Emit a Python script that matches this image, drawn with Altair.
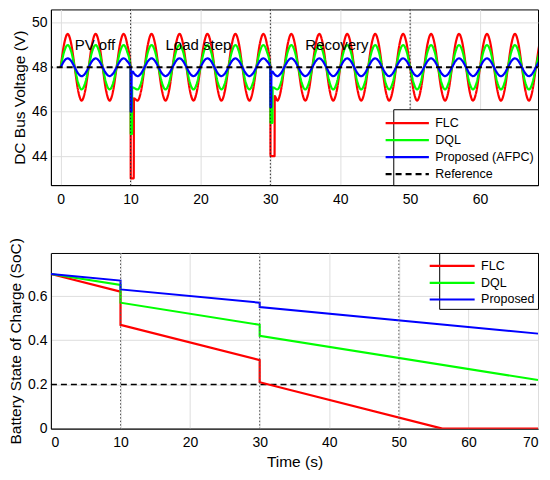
import altair as alt
import pandas as pd

FONT = "Liberation Sans"

# ---------------- Top panel: DC bus voltage ----------------
SERIES_TOP = ["FLC", "DQL", "Proposed (AFPC)", "Reference"]
COLORS_TOP = ["#ff0000", "#00ff00", "#0000ff", "#000000"]
WIDTHS_TOP = [2.2, 2.2, 3.4, 1.5]
DASH_TOP = [[1, 0], [1, 0], [1, 0], [6, 4]]

STEP = 0.5          # sampling step of the read-off values (s)
T_END = 68.5
# one oscillation period (4 s), every 0.5 s
FLC_CYCLE = [48.0, 49.06, 49.5, 49.06, 48.0, 46.94, 46.5, 46.94]
DQL_CYCLE = [48.0, 48.71, 49.0, 48.71, 48.0, 47.29, 47.0, 47.29]
AFPC_CYCLE = [48.0, 48.28, 48.4, 48.28, 48.0, 47.72, 47.6, 47.72]

# transients: (start, resume, [(t, v), ...])
FLC_EVENTS = [(10.0, 11.0, [(10.02, 43.0), (10.45, 43.0), (10.48, 46.6)]),
              (30.0, 31.0, [(30.02, 44.0), (30.6, 44.0), (30.63, 46.7)])]
DQL_EVENTS = [(10.0, 11.0, [(10.02, 45.0), (10.2, 45.0), (10.23, 47.1)]),
              (30.0, 31.0, [(30.02, 45.5), (30.3, 45.5), (30.33, 47.1)])]
AFPC_EVENTS = [(10.0, 10.5, [(10.02, 46.0), (10.12, 46.0), (10.15, 47.75), (10.3, 47.8)]),
               (30.0, 30.5, [(30.02, 46.2), (30.12, 46.2), (30.15, 47.75), (30.3, 47.8)])]

REF_T = [-2.0, 70.0]
REF_V = [48.0, 48.0]

EVENT_T = [10, 30, 50]
ANNOT_T = [2, 15, 35]
ANNOT_V = [49.0, 49.0, 49.0]
ANNOT_TXT = ["PV off", "Load step", "Recovery"]

X_TOP_DOMAIN = [-1.4, 68.3]
Y_TOP_DOMAIN = [42.7, 50.6]
X_TOP_TICKS = [0, 10, 20, 30, 40, 50, 60]
Y_TOP_TICKS = [44, 46, 48, 50]

# ---------------- Bottom panel: battery SoC ----------------
SERIES_BOT = ["FLC", "DQL", "Proposed"]
COLORS_BOT = ["#ff0000", "#00ff00", "#0000ff"]
WIDTHS_BOT = [2.2, 2.0, 3.4]

SOC_FLC_T = [0, 10, 10, 30, 30, 56.25, 70]
SOC_FLC_V = [0.70, 0.62, 0.47, 0.31, 0.21, 0.0, 0.0]
SOC_DQL_T = [0, 10, 10, 30, 30, 70]
SOC_DQL_V = [0.70, 0.65, 0.57, 0.47, 0.42, 0.22]
SOC_AFPC_T = [0, 10, 10, 30, 30, 70]
SOC_AFPC_V = [0.70, 0.67, 0.63, 0.57, 0.55, 0.43]
SOC_REF_T = [0, 70]
SOC_REF_V = [0.2, 0.2]

X_BOT_DOMAIN = [0, 70]
Y_BOT_DOMAIN = [0, 0.795]
X_BOT_TICKS = [0, 10, 20, 30, 40, 50, 60, 70]
Y_BOT_TICKS = [0, 0.2, 0.4, 0.6]


def build_series(cycle, events):
    n = int(round(T_END / STEP)) + 1
    pts = []
    for i in range(n):
        t = i * STEP
        if any(s < t < r for s, r, _ in events):
            continue
        pts.append((t, cycle[i % len(cycle)]))
    for _, _, extra in events:
        pts.extend(extra)
    pts.sort(key=lambda p: p[0])
    return pts


rows = []
for name, cyc, ev in [("FLC", FLC_CYCLE, FLC_EVENTS),
                      ("DQL", DQL_CYCLE, DQL_EVENTS),
                      ("Proposed (AFPC)", AFPC_CYCLE, AFPC_EVENTS)]:
    for k, (t, v) in enumerate(build_series(cyc, ev)):
        rows.append({"t": t, "v": v, "series": name, "idx": k})
for k, (t, v) in enumerate(zip(REF_T, REF_V)):
    rows.append({"t": t, "v": v, "series": "Reference", "idx": k})
df_top = pd.DataFrame(rows)

rows = []
for name, ts, vs in [("FLC", SOC_FLC_T, SOC_FLC_V),
                     ("DQL", SOC_DQL_T, SOC_DQL_V),
                     ("Proposed", SOC_AFPC_T, SOC_AFPC_V)]:
    for k, (t, v) in enumerate(zip(ts, vs)):
        rows.append({"t": t, "v": v, "series": name, "idx": k})
df_bot = pd.DataFrame(rows)
df_bot_ref = pd.DataFrame({"t": SOC_REF_T, "v": SOC_REF_V})

df_events = pd.DataFrame({"t": EVENT_T})
df_annot = pd.DataFrame({"t": ANNOT_T, "v": ANNOT_V, "txt": ANNOT_TXT})

GRID = "#dedede"


def xaxis(ticks, title=None):
    kw = dict(values=ticks, format="d", grid=True, gridColor=GRID, ticks=False,
              labelPadding=7, labelFontSize=14, domainColor="black")
    if title:
        return alt.Axis(title=title, titleFontSize=15.5, titleFontWeight="normal",
                        titlePadding=5, **kw)
    return alt.Axis(title=None, **kw)


def yaxis(ticks, title, fmt):
    return alt.Axis(values=ticks, format=fmt, grid=True, gridColor=GRID, ticks=False,
                    labelPadding=4, labelFontSize=14, title=title, titleFontSize=15.5,
                    titleFontWeight="normal", titlePadding=4, domainColor="black")


# legend line sample: a horizontal stroke wider than the row height
def legend(orient, path, loff, pad):
    return alt.Legend(title=None, orient=orient, offset=0, fillColor="white",
                      strokeColor="black", padding=pad, labelFontSize=12.5,
                      symbolType=path, symbolSize=289, labelOffset=loff,
                      rowPadding=0, labelLimit=300)


leg_top = legend("bottom-right", "M-2.55,0H2.55", 18, 4)
xs_top = alt.Scale(domain=X_TOP_DOMAIN, nice=False, zero=False)
ys_top = alt.Scale(domain=Y_TOP_DOMAIN, nice=False, zero=False)

lines_top = alt.Chart(df_top).mark_line(interpolate="monotone", clip=True).encode(
    x=alt.X("t:Q", scale=xs_top, axis=xaxis(X_TOP_TICKS)),
    y=alt.Y("v:Q", scale=ys_top, axis=yaxis(Y_TOP_TICKS, "DC Bus Voltage (V)", "d")),
    color=alt.Color("series:N", scale=alt.Scale(domain=SERIES_TOP, range=COLORS_TOP),
                    legend=leg_top),
    strokeDash=alt.StrokeDash("series:N", scale=alt.Scale(domain=SERIES_TOP, range=DASH_TOP),
                              legend=leg_top),
    strokeWidth=alt.StrokeWidth("series:N", scale=alt.Scale(domain=SERIES_TOP, range=WIDTHS_TOP),
                                legend=leg_top),
    order="idx:Q",
    detail="series:N",
)

rules_top = alt.Chart(df_events).mark_rule(color="#222222", strokeDash=[1.5, 2],
                                           strokeWidth=1).encode(x=alt.X("t:Q", scale=xs_top))

text_top = alt.Chart(df_annot).mark_text(align="left", baseline="middle", fontSize=15,
                                         font=FONT, color="black").encode(
    x=alt.X("t:Q", scale=xs_top), y=alt.Y("v:Q", scale=ys_top), text="txt:N")

top = alt.layer(lines_top, rules_top, text_top).properties(width=488, height=176)

# bottom
leg_bot = legend("top-right", "M-2.65,0H2.65", 19, 3)
xs_bot = alt.Scale(domain=X_BOT_DOMAIN, nice=False, zero=False)
ys_bot = alt.Scale(domain=Y_BOT_DOMAIN, nice=False, zero=False)

ref_bot = alt.Chart(df_bot_ref).mark_line(color="black", strokeDash=[6, 4], strokeWidth=1.5).encode(
    x=alt.X("t:Q", scale=xs_bot, axis=xaxis(X_BOT_TICKS, "Time (s)")),
    y=alt.Y("v:Q", scale=ys_bot,
            axis=yaxis(Y_BOT_TICKS, "Battery State of Charge (SoC)", "~g")),
)

lines_bot = alt.Chart(df_bot).mark_line(clip=True).encode(
    x=alt.X("t:Q", scale=xs_bot),
    y=alt.Y("v:Q", scale=ys_bot),
    color=alt.Color("series:N", scale=alt.Scale(domain=SERIES_BOT, range=COLORS_BOT),
                    legend=leg_bot),
    strokeWidth=alt.StrokeWidth("series:N", scale=alt.Scale(domain=SERIES_BOT, range=WIDTHS_BOT),
                                legend=leg_bot),
    order="idx:Q",
    detail="series:N",
)

rules_bot = alt.Chart(df_events).mark_rule(color="#555555", strokeDash=[1.5, 2],
                                           strokeWidth=1).encode(x=alt.X("t:Q", scale=xs_bot))

bottom = alt.layer(ref_bot, lines_bot, rules_bot).properties(width=488, height=176)

chart = alt.vconcat(top, bottom, spacing=30).resolve_scale(
    color="independent", strokeWidth="independent", strokeDash="independent",
    x="independent", y="independent"
).resolve_legend(color="independent", strokeWidth="independent", strokeDash="independent"
).properties(padding=0).configure(font=FONT).configure_view(
    stroke="black", strokeWidth=1).configure_axis(
    labelColor="black", titleColor="black", labelFont=FONT, titleFont=FONT
).configure_legend(labelFont=FONT, labelColor="black")

chart.save("out.html", embed_options={"renderer": "svg", "actions": False})
